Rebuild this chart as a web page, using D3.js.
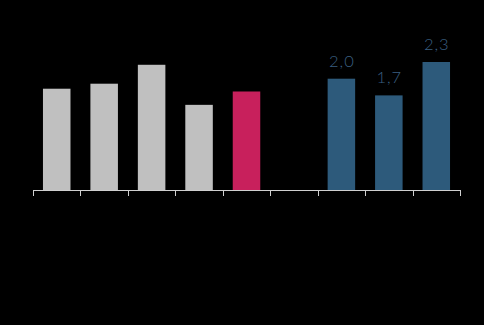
<!DOCTYPE html>
<html><head><meta charset="utf-8">
<script src="https://cdn.jsdelivr.net/npm/d3@7"></script>
<style>html,body{margin:0;padding:0;background:#000;}svg{display:block;}</style>
</head><body>
<svg id="c" width="484" height="325"></svg>
<script>
const categories = ["a","b","c","d","e","f","g","h","i"];
const values = [1.82, 1.91, 2.25, 1.53, 1.77, null, 2.0, 1.7, 2.3];
const groups = ["past","past","past","past","current","gap","forecast","forecast","forecast"];
const labels = ["","","","","","","2,0","1,7","2,3"];
const colors = {past:"#c0c0c0", current:"#c8205c", forecast:"#2d5a7b", gap:"none"};

const svg = d3.select("#c");
const x = d3.scaleBand().domain(categories).range([33, 460]).paddingInner(0.42).paddingOuter(0.21);
const y = d3.scaleLinear().domain([0, 2.3]).range([190, 62]);

const data = categories.map((c,i)=>({c, v:values[i], g:groups[i], l:labels[i]}));

svg.selectAll("rect.bar").data(data.filter(d=>d.v!=null)).join("rect")
  .attr("class","bar")
  .attr("x", d=>x(d.c)).attr("width", x.bandwidth())
  .attr("y", d=>y(d.v)).attr("height", d=>y(0)-y(d.v))
  .attr("fill", d=>colors[d.g]);

svg.selectAll("text.lbl").data(data.filter(d=>d.l)).join("text")
  .attr("class","lbl")
  .attr("x", d=>x(d.c)+x.bandwidth()/2+0.5).attr("y", d=>y(d.v)-12)
  .attr("text-anchor","middle")
  .attr("font-family","Lato, 'DejaVu Sans', sans-serif").attr("font-weight",300)
  .attr("font-size",16.5).attr("letter-spacing","1px").attr("fill","#3a5f80")
  .text(d=>d.l);

// axis
const [r0, r1] = x.range();
svg.append("line").attr("x1", r0).attr("x2", r1).attr("y1", y(0)+0.5).attr("y2", y(0)+0.5)
  .attr("stroke","#d0d0d0").attr("stroke-width",1);
const bounds = d3.range(categories.length+1).map(i => r0 + (r1-r0)*i/categories.length);
svg.selectAll("line.tick").data(bounds).join("line").attr("class","tick")
  .attr("x1", d=>Math.round(d)+0.5).attr("x2", d=>Math.round(d)+0.5)
  .attr("y1", y(0)).attr("y2", y(0)+6)
  .attr("stroke","#d0d0d0").attr("stroke-width",1);
</script>
</body></html>
